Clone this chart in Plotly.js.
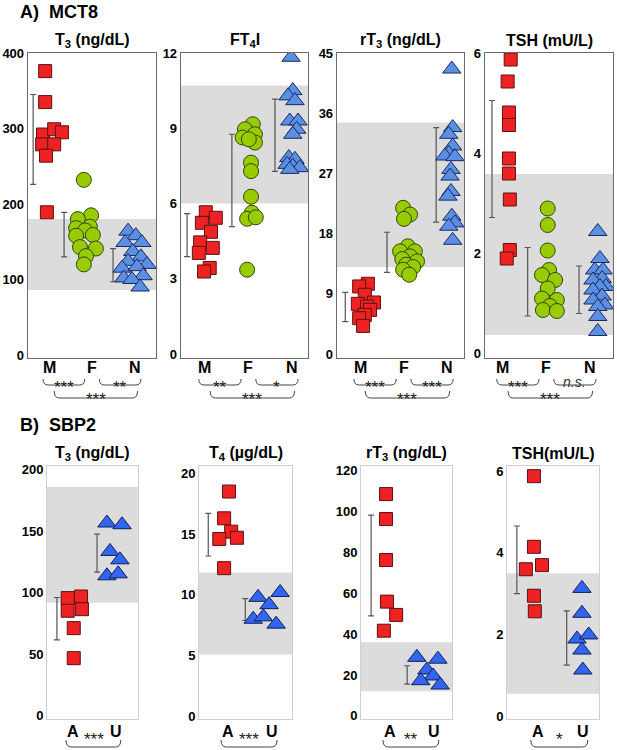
<!DOCTYPE html>
<html><head><meta charset="utf-8">
<script src="https://cdn.plot.ly/plotly-3.0.1.min.js"></script>
<style>html,body{margin:0;padding:0;background:#fff}</style>
</head><body><div id="chart" style="width:617px;height:750px"></div>
<script>
// ---------- DATA ----------
const A_CATS = ['M', 'F', 'N'];
const B_CATS = ['A', 'U'];

// A) MCT8 — T3 (ng/dL)
const A_T3_ticks = [0, 100, 200, 300, 400];
const A_T3_ref = [86, 180];
const A_T3_M = [376, 335, 292, 299, 295, 279, 279, 264, 189];
const A_T3_M_x = [0.91, 0.91, 0.86, 1.12, 1.30, 0.84, 1.12, 0.93, 0.95];
const A_T3_F = [232, 185, 180, 170, 168, 165, 159, 158, 143, 141, 131, 120];
const A_T3_F_x = [1.81, 1.98, 1.67, 1.95, 1.63, 1.84, 2.02, 1.63, 1.72, 2.09, 1.86, 1.81];
const A_T3_N = [164, 158, 149, 149, 137, 130, 124, 120, 115, 117, 105, 102, 100, 90];
const A_T3_N_x = [2.84, 3.02, 3.16, 2.77, 2.95, 3.14, 2.84, 3.28, 2.70, 3.05, 3.19, 2.74, 2.93, 3.12];
const A_T3_lo = [226, 130, 97];
const A_T3_hi = [345, 189, 141];

// A) MCT8 — FT4I
const A_FT4I_ticks = [0, 3, 6, 9, 12];
const A_FT4I_ref = [6.0, 10.7];
const A_FT4I_M = [5.65, 5.43, 5.23, 4.87, 4.45, 4.23, 4.03, 3.43, 3.29];
const A_FT4I_M_x = [1.02, 1.25, 0.93, 1.14, 0.89, 1.18, 0.86, 1.11, 0.98];
const A_FT4I_F = [9.16, 8.96, 8.76, 8.63, 8.43, 8.56, 7.63, 7.29, 6.27, 5.63, 5.39, 5.45, 3.36];
const A_FT4I_F_x = [2.10, 1.92, 2.15, 1.87, 2.15, 2.01, 2.06, 2.06, 2.06, 2.08, 1.97, 2.17, 1.97];
const A_FT4I_N = [11.83, 10.5, 10.29, 10.1, 9.29, 9.29, 8.96, 8.76, 7.83, 7.76, 7.56, 7.49, 7.43, 7.36];
const A_FT4I_N_x = [2.98, 3.02, 2.91, 3.07, 2.95, 3.14, 3.11, 3.02, 2.93, 3.07, 2.89, 3.02, 3.18, 2.95];
const A_FT4I_lo = [3.88, 5.08, 7.28];
const A_FT4I_hi = [5.6, 8.76, 10.16];

// A) MCT8 — rT3 (ng/dL)
const A_rT3_ticks = [0, 9, 18, 27, 36, 45];
const A_rT3_ref = [13.0, 34.6];
const A_rT3_M = [10.5, 10.1, 8.85, 7.7, 7.5, 7.1, 6.6, 5.85, 5.35, 4.2];
const A_rT3_M_x = [1.18, 0.98, 1.11, 1.32, 0.95, 1.16, 1.23, 1.11, 0.98, 1.07];
const A_rT3_F = [21.85, 20.85, 20.2, 16.1, 15.35, 15.35, 14.6, 14.2, 13.85, 13.35, 13.0, 12.6, 11.85];
const A_rT3_F_x = [1.99, 2.15, 2.01, 2.10, 1.92, 2.26, 2.15, 1.97, 2.31, 2.06, 2.22, 1.99, 2.13];
const A_rT3_N = [42.6, 33.85, 32.85, 31.1, 30.0, 29.6, 29.5, 27.6, 26.6, 24.3, 23.6, 20.6, 19.6, 19.1, 17.0];
const A_rT3_N_x = [3.11, 3.13, 3.04, 3.13, 3.04, 2.95, 3.18, 3.09, 3.07, 3.09, 3.02, 3.11, 3.18, 3.04, 3.13];
const A_rT3_lo = [4.85, 12.2, 19.7];
const A_rT3_hi = [9.2, 18.2, 33.85];

// A) MCT8 — TSH (mU/L)
const A_TSH_ticks = [0, 2, 4, 6];
const A_TSH_ref = [0.36, 3.58];
const A_TSH_M = [5.87, 5.43, 4.81, 4.56, 3.89, 3.59, 3.07, 2.06, 1.89];
const A_TSH_M_x = [1.18, 1.11, 1.14, 1.14, 1.14, 1.14, 1.16, 1.16, 1.09];
const A_TSH_F = [2.89, 2.56, 2.05, 1.66, 1.56, 1.46, 1.29, 1.09, 1.06, 0.94, 0.86, 0.84];
const A_TSH_F_x = [2.03, 2.03, 2.03, 2.06, 1.90, 2.20, 2.03, 1.90, 2.24, 2.08, 1.92, 2.24];
const A_TSH_N = [2.43, 1.89, 1.66, 1.66, 1.49, 1.46, 1.33, 1.33, 1.26, 1.14, 1.06, 0.96, 0.93, 0.73, 0.43];
const A_TSH_N_x = [3.18, 3.23, 3.11, 3.30, 3.28, 3.07, 3.37, 3.23, 3.07, 3.28, 3.07, 3.34, 3.18, 3.18, 3.18];
const A_TSH_lo = [2.71, 0.74, 0.79];
const A_TSH_hi = [5.05, 2.11, 1.74];

// B) SBP2 — T3 (ng/dL)
const B_T3_ticks = [0, 50, 100, 150, 200];
const B_T3_ref = [92, 186];
const B_T3_A = [95.7, 97, 85.4, 86.7, 71.3, 46.9];
const B_T3_A_x = [0.88, 1.19, 0.88, 1.21, 1.02, 1.02];
const B_T3_U = [156.7, 155.3, 133.6, 126.8, 113.8, 115.4];
const B_T3_U_x = [1.79, 2.14, 1.86, 2.09, 1.79, 2.05];
const B_T3_lo = [61.8, 116.8];
const B_T3_hi = [96.2, 147.7];

// B) SBP2 — T4 (µg/dL)
const B_T4_ticks = [0, 5, 10, 15, 20];
const B_T4_ref = [5.1, 11.85];
const B_T4_A = [18.5, 16.3, 15.2, 14.6, 14.7, 12.2];
const B_T4_A_x = [1.02, 0.91, 1.07, 0.80, 1.20, 0.91];
const B_T4_U = [9.8, 10.2, 9.2, 8.0, 8.2, 7.6];
const B_T4_U_x = [1.68, 2.18, 1.93, 1.57, 1.80, 2.09];
const B_T4_lo = [13.2, 7.9];
const B_T4_hi = [16.7, 9.7];

// B) SBP2 — rT3 (ng/dL)
const B_rT3_ticks = [0, 20, 40, 60, 80, 100, 120];
const B_rT3_ref = [12, 36];
const B_rT3_A = [108.3, 96.1, 76.1, 55.8, 49.3, 41.6];
const B_rT3_A_x = [0.91, 0.91, 0.91, 0.93, 1.14, 0.86];
const B_rT3_U = [28.6, 27.7, 22.4, 19.5, 17.2, 15.1];
const B_rT3_U_x = [1.61, 2.09, 1.84, 1.98, 1.70, 2.14];
const B_rT3_lo = [48.8, 15.5];
const B_rT3_hi = [98, 24.5];

// B) SBP2 — TSH (mU/L)
const B_TSH_ticks = [0, 2, 4, 6];
const B_TSH_ref = [0.55, 3.5];
const B_TSH_A = [5.88, 4.15, 3.6, 3.7, 2.95, 2.57];
const B_TSH_A_x = [0.91, 0.91, 0.73, 1.09, 0.91, 0.93];
const B_TSH_U = [3.13, 2.52, 1.89, 1.99, 1.62, 1.13];
const B_TSH_U_x = [1.98, 1.98, 1.87, 2.13, 1.98, 2.0];
const B_TSH_lo = [3.0, 1.25];
const B_TSH_hi = [4.66, 2.58];

// significance labels
const A_SIG_T3 = ['***', '**', '***'];
const A_SIG_FT4I = ['**', '*', '***'];
const A_SIG_rT3 = ['***', '***', '***'];
const A_SIG_TSH = ['***', '<i>n.s.</i>', '***'];
const B_SIG = ['***', '***', '**', '*'];

// ---------- LAYOUT / STYLE ----------
const W = 617, H = 750;
const FONT = 'Liberation Sans, Arial, sans-serif';
const STY = {
  M: {symbol: 'square', size: 13, color: '#ee2222', line: '#5e1010'},
  F: {symbol: 'circle', size: 15, color: '#99cc00', line: '#34470a'},
  N: {symbol: 'triangle-up', size: 16, color: '#5b8fe2', line: '#182a63'},
  A: {symbol: 'square', size: 13, color: '#ee2222', line: '#5e1010'},
  U: {symbol: 'triangle-up', size: 16, color: '#3366ee', line: '#0f1f5c'}
};

const panels = [
  {px: [28, 156], py: [53, 358], xr: [0.51, 3.49], yr: [-4, 400], ticks: A_T3_ticks, ref: A_T3_ref, cats: A_CATS,
   title: 'T<sub>3</sub> (ng/dL)', groups: [[A_T3_M, A_T3_M_x, 'M'], [A_T3_F, A_T3_F_x, 'F'], [A_T3_N, A_T3_N_x, 'N']],
   lo: A_T3_lo, hi: A_T3_hi, barx: [0.63, 1.35, 2.49], sig: A_SIG_T3, A: true},
  {px: [181, 308], py: [53, 358], xr: [0.45, 3.37], yr: [-0.16, 12], ticks: A_FT4I_ticks, ref: A_FT4I_ref, cats: A_CATS,
   title: 'FT<sub>4</sub>I', groups: [[A_FT4I_M, A_FT4I_M_x, 'M'], [A_FT4I_F, A_FT4I_F_x, 'F'], [A_FT4I_N, A_FT4I_N_x, 'N']],
   lo: A_FT4I_lo, hi: A_FT4I_hi, barx: [0.59, 1.62, 2.61], sig: A_SIG_FT4I, A: true},
  {px: [337, 464], py: [53, 358], xr: [0.47, 3.39], yr: [-0.6, 45], ticks: A_rT3_ticks, ref: A_rT3_ref, cats: A_CATS,
   title: 'rT<sub>3</sub> (ng/dL)', groups: [[A_rT3_M, A_rT3_M_x, 'M'], [A_rT3_F, A_rT3_F_x, 'F'], [A_rT3_N, A_rT3_N_x, 'N']],
   lo: A_rT3_lo, hi: A_rT3_hi, barx: [0.66, 1.62, 2.75], sig: A_SIG_rT3, A: true},
  {px: [485, 613], py: [53, 358], xr: [0.59, 3.53], yr: [-0.1, 6], ticks: A_TSH_ticks, ref: A_TSH_ref, cats: A_CATS,
   title: 'TSH (mU/L)', groups: [[A_TSH_M, A_TSH_M_x, 'M'], [A_TSH_F, A_TSH_F_x, 'F'], [A_TSH_N, A_TSH_N_x, 'N']],
   lo: A_TSH_lo, hi: A_TSH_hi, barx: [0.75, 1.57, 2.75], sig: A_SIG_TSH, A: true},
  {px: [47, 138], py: [466, 719], xr: [0.4, 2.51], yr: [-2.5, 203], ticks: B_T3_ticks, ref: B_T3_ref, cats: B_CATS,
   title: 'T<sub>3</sub> (ng/dL)', groups: [[B_T3_A, B_T3_A_x, 'A'], [B_T3_U, B_T3_U_x, 'U']],
   lo: B_T3_lo, hi: B_T3_hi, barx: [0.63, 1.56], sig: [B_SIG[0]], A: false},
  {px: [199, 292], py: [466, 719], xr: [0.34, 2.45], yr: [-0.2, 20.6], ticks: B_T4_ticks, ref: B_T4_ref, cats: B_CATS,
   title: 'T<sub>4</sub> (µg/dL)', groups: [[B_T4_A, B_T4_A_x, 'A'], [B_T4_U, B_T4_U_x, 'U']],
   lo: B_T4_lo, hi: B_T4_hi, barx: [0.55, 1.39], sig: [B_SIG[1]], A: false},
  {px: [361, 452], py: [466, 719], xr: [0.34, 2.41], yr: [-1.5, 122], ticks: B_rT3_ticks, ref: B_rT3_ref, cats: B_CATS,
   title: 'rT<sub>3</sub> (ng/dL)', groups: [[B_rT3_A, B_rT3_A_x, 'A'], [B_rT3_U, B_rT3_U_x, 'U']],
   lo: B_rT3_lo, hi: B_rT3_hi, barx: [0.57, 1.39], sig: [B_SIG[2]], A: false},
  {px: [507, 599], py: [466, 719], xr: [0.31, 2.36], yr: [-0.07, 6.13], ticks: B_TSH_ticks, ref: B_TSH_ref, cats: B_CATS,
   title: 'TSH(mU/L)', groups: [[B_TSH_A, B_TSH_A_x, 'A'], [B_TSH_U, B_TSH_U_x, 'U']],
   lo: B_TSH_lo, hi: B_TSH_hi, barx: [0.53, 1.64], sig: [B_SIG[3]], A: false}
];

const traces = [];
const layout = {
  width: W, height: H, margin: {l: 0, r: 0, t: 0, b: 0},
  paper_bgcolor: '#fff', plot_bgcolor: '#fff', showlegend: false,
  font: {family: FONT, color: '#000'},
  shapes: [], annotations: []
};
const fy = py => 1 - py / H;

function bracket(xa, x0, x1, yLine, yTop, dx) {
  return {type: 'path', xref: xa, yref: 'paper',
    path: `M ${x0},${fy(yTop)} Q ${x0},${fy(yLine)} ${x0 + dx},${fy(yLine)} L ${x1 - dx},${fy(yLine)} Q ${x1},${fy(yLine)} ${x1},${fy(yTop)}`,
    line: {color: '#444', width: 1}};
}

panels.forEach((p, i) => {
  const n = i + 1;
  const xa = 'x' + (n === 1 ? '' : n), ya = 'y' + (n === 1 ? '' : n);
  const xk = 'xaxis' + (n === 1 ? '' : n), yk = 'yaxis' + (n === 1 ? '' : n);
  const lc = p.A ? '#6a6a6a' : '#cfcfcf', lw = p.A ? 1.3 : 1;
  layout[xk] = {domain: [p.px[0] / W, p.px[1] / W], range: p.xr, anchor: ya, fixedrange: true,
    showticklabels: false, ticks: '', showgrid: false, zeroline: false,
    showline: true, mirror: true, linecolor: lc, linewidth: lw};
  layout[yk] = {domain: [fy(p.py[1]), fy(p.py[0])], range: p.yr, anchor: xa, fixedrange: true,
    tickvals: p.ticks, ticks: '', showgrid: false, zeroline: false,
    showline: true, mirror: true, linecolor: lc, linewidth: lw,
    tickfont: {family: FONT, size: 13, weight: 'bold', color: '#000'}};
  // category labels under the box
  p.cats.forEach((c, k) => {
    layout.annotations.push({xref: xa, yref: 'paper', x: k + 1, y: fy(p.A ? 368 : 731), yanchor: 'middle',
      xanchor: 'center', showarrow: false, text: c,
      font: {family: FONT, size: 16, weight: 'bold', color: '#000'}});
  });
  // reference range band
  layout.shapes.push({type: 'rect', xref: xa + ' domain', yref: ya, x0: 0, x1: 1, y0: p.ref[0], y1: p.ref[1],
    fillcolor: '#dcdcdc', line: {width: 0}, layer: 'below'});
  // mean ± SD bars
  traces.push({type: 'scatter', mode: 'markers', xaxis: xa, yaxis: ya, hoverinfo: 'skip',
    x: p.barx, y: p.lo.map((l, k) => (l + p.hi[k]) / 2),
    marker: {size: 1, color: 'rgba(0,0,0,0)'},
    error_y: {type: 'data', symmetric: true, array: p.lo.map((l, k) => (p.hi[k] - l) / 2),
      color: '#555', thickness: 1.2, width: 3}});
  // points
  p.groups.forEach(g => {
    const s = STY[g[2]];
    traces.push({type: 'scatter', mode: 'markers', xaxis: xa, yaxis: ya, x: g[1], y: g[0], name: g[2],
      marker: {symbol: s.symbol, size: s.size, color: s.color, line: {color: s.line, width: 1}}});
  });
  // title
  layout.annotations.push({xref: 'paper', yref: 'paper', x: (p.px[0] + p.px[1]) / 2 / W,
    y: fy(p.A ? 40 : 453), yanchor: 'middle', xanchor: 'center', showarrow: false, text: p.title,
    font: {family: FONT, size: 16, weight: 'bold', color: '#000'}});
  // brackets + significance
  const sfont = {family: FONT, size: 17, color: '#222'};
  if (p.A) {
    const segs = [[0.86, 1.83, 385, 379, 387], [2.17, 3.14, 385, 379, 387], [1.12, 3.06, 398, 391, 399]];
    segs.forEach((s, k) => {
      layout.shapes.push(bracket(xa, s[0], s[1], s[2], s[3], 0.12));
      const ns = p.sig[k].indexOf('n.s') >= 0;
      layout.annotations.push({xref: xa, yref: 'paper', x: (s[0] + s[1]) / 2, y: fy(ns ? 382 : s[4]),
        yanchor: 'middle', xanchor: 'center', showarrow: false, text: p.sig[k],
        font: ns ? {family: FONT, size: 14, color: '#333'} : sfont});
    });
  } else {
    layout.shapes.push(bracket(xa, 0.84, 2.11, 747, 740, 0.12));
    layout.annotations.push({xref: xa, yref: 'paper', x: 1.48, y: 0, yanchor: 'bottom', borderpad: 0,
      xanchor: 'center', showarrow: false, text: p.sig[0], font: sfont});
  }
});

// panel headings
layout.annotations.push({xref: 'paper', yref: 'paper', x: 18 / W, y: fy(12), xanchor: 'left', yanchor: 'middle',
  showarrow: false, text: 'A)  MCT8', font: {family: FONT, size: 18, weight: 'bold', color: '#000'}});
layout.annotations.push({xref: 'paper', yref: 'paper', x: 18 / W, y: fy(425), xanchor: 'left', yanchor: 'middle',
  showarrow: false, text: 'B)  SBP2', font: {family: FONT, size: 18, weight: 'bold', color: '#000'}});

Plotly.newPlot('chart', traces, layout, {displayModeBar: false, staticPlot: true});
</script></body></html>
